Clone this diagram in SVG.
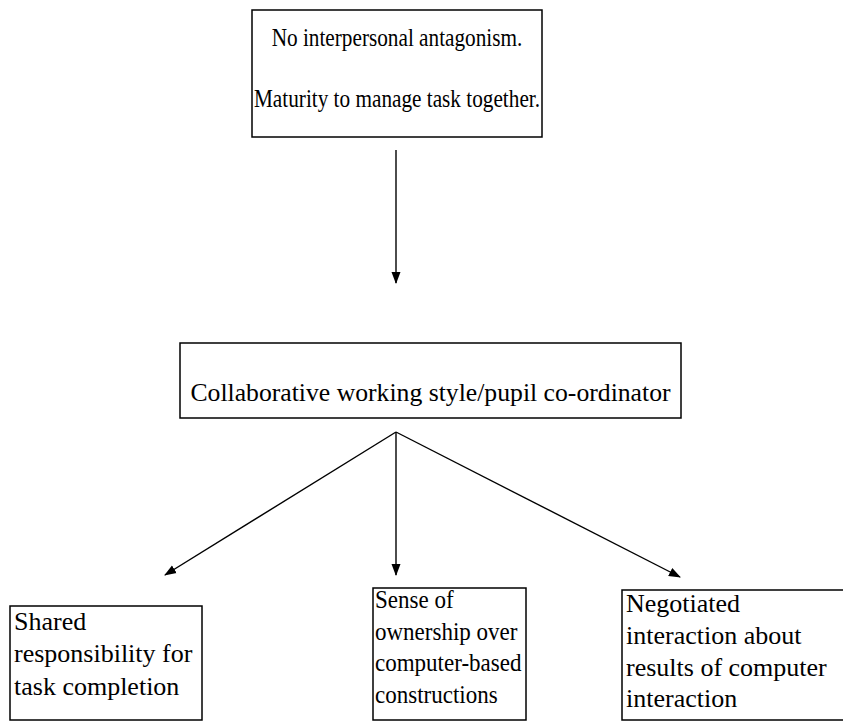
<svg xmlns="http://www.w3.org/2000/svg" width="843" height="721" viewBox="0 0 843 721">
  <style>
    .box { fill: #fff; stroke: #000; stroke-width: 1.5; }
    .t { font-family: "Liberation Serif", "Times New Roman", serif; fill: #000; }
    .conn { stroke: #000; stroke-width: 1.4; fill: none; marker-end: url(#arrow); }
  </style>
  <defs>
    <marker id="arrow" markerWidth="12" markerHeight="10" refX="11" refY="5" orient="auto" markerUnits="userSpaceOnUse">
      <path d="M0,0.5 L12,5 L0,9.5 Z" fill="#000"/>
    </marker>
  </defs>
  <rect width="843" height="721" fill="#fff"/>

  <g id="conditions">
    <rect class="box" x="252" y="10" width="290" height="127"/>
    <!-- slightly condensed serif lines, centred on the box -->
    <g transform="translate(397,0) scale(0.85,1)">
      <text class="t" x="0" y="46" font-size="25" text-anchor="middle">No interpersonal antagonism.</text>
      <text class="t" x="0" y="107" font-size="25" text-anchor="middle">Maturity to manage task together.</text>
    </g>
  </g>

  <g id="style">
    <rect class="box" x="180" y="343" width="501" height="75"/>
    <text class="t" x="430.5" y="401" font-size="25.7" text-anchor="middle">Collaborative working style/pupil co-ordinator</text>
  </g>

  <g id="shared">
    <rect class="box" x="10" y="606" width="192" height="114"/>
    <text class="t" font-size="26" x="14">
      <tspan x="14" y="630">Shared</tspan>
      <tspan x="14" y="662">responsibility for</tspan>
      <tspan x="14" y="695">task completion</tspan>
    </text>
  </g>

  <g id="ownership">
    <rect class="box" x="373" y="588" width="153" height="132"/>
    <g transform="translate(375,0) scale(0.885,1)">
      <text class="t" font-size="26" x="0">
        <tspan x="0" y="608">Sense of</tspan>
        <tspan x="0" y="640">ownership over</tspan>
        <tspan x="0" y="671">computer-based</tspan>
        <tspan x="0" y="703">constructions</tspan>
      </text>
    </g>
  </g>

  <g id="negotiated">
    <rect class="box" x="622" y="590" width="230" height="130"/>
    <text class="t" font-size="26" x="626">
      <tspan x="626" y="612">Negotiated</tspan>
      <tspan x="626" y="644">interaction about</tspan>
      <tspan x="626" y="676">results of computer</tspan>
      <tspan x="626" y="707">interaction</tspan>
    </text>
  </g>

  <g id="connectors">
    <line class="conn" x1="396" y1="150" x2="396" y2="283"/>
    <line class="conn" x1="396" y1="432" x2="165" y2="575"/>
    <line class="conn" x1="396" y1="432" x2="396" y2="575"/>
    <line class="conn" x1="396" y1="432" x2="680" y2="577"/>
  </g>
</svg>
